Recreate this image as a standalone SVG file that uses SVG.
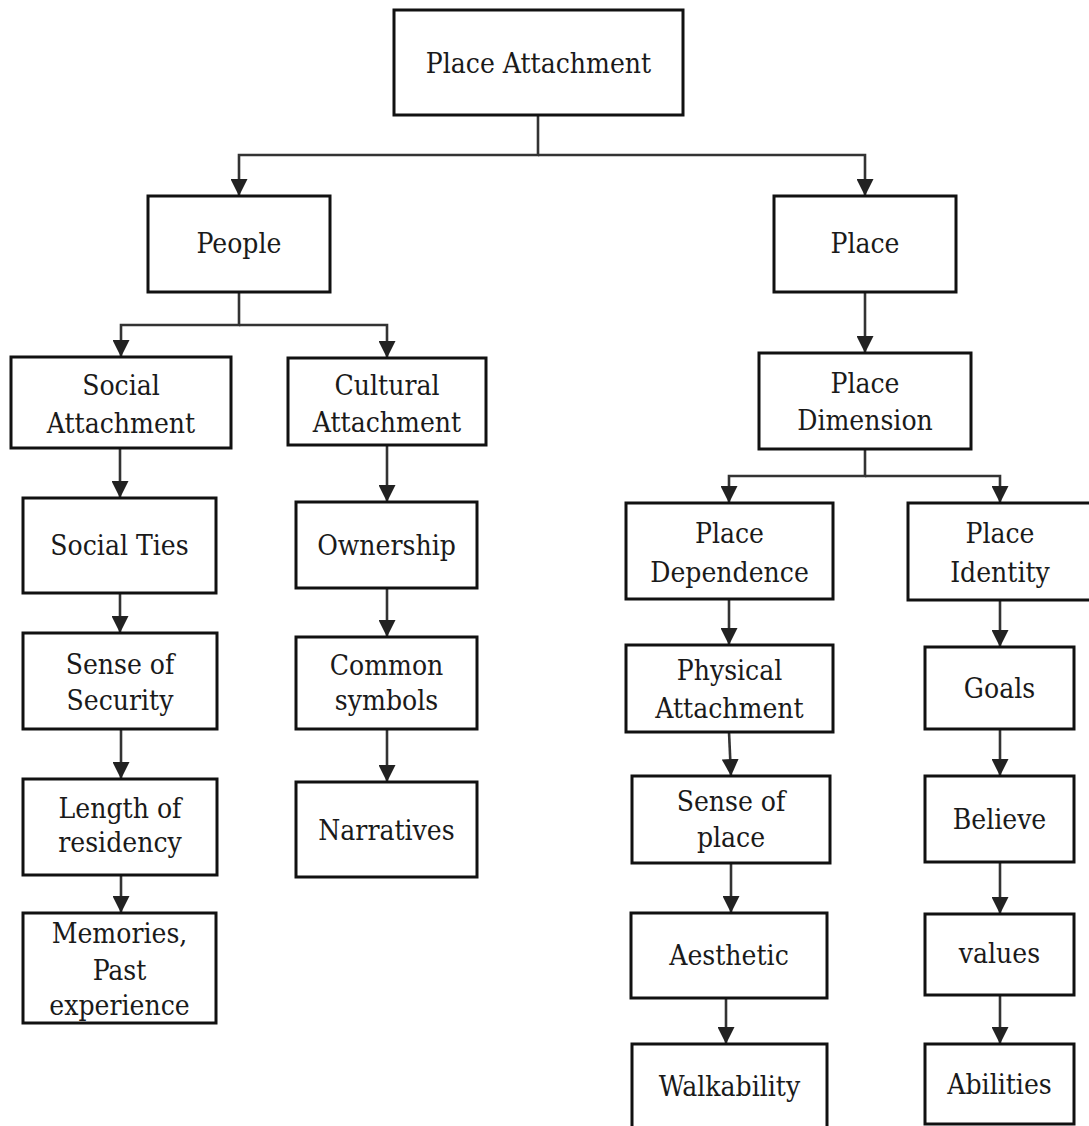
<svg xmlns="http://www.w3.org/2000/svg" width="1089" height="1126" viewBox="0 0 1089 1126">
<style>
rect.box{fill:#fff;stroke:#111;stroke-width:3}
.lbl text{font-family:"DejaVu Serif Condensed","DejaVu Serif","Liberation Serif",serif;font-stretch:condensed;font-size:28px;fill:#1a1a1a;text-anchor:middle}
.conn path{fill:none;stroke:#333;stroke-width:2.6}
</style>
<defs>
<marker id="arr" viewBox="0 0 16 16" refX="16" refY="8" markerWidth="17" markerHeight="17" markerUnits="userSpaceOnUse" orient="auto">
<path d="M0,0 L16,8 L0,16 z" fill="#222"/>
</marker>
</defs>
<rect width="1089" height="1126" fill="#fff"/>
<g class="conn">
<path d="M538,115 V155 H239 V196" marker-end="url(#arr)"/>
<path d="M538,155 H865 V196" marker-end="url(#arr)"/>
<path d="M239,292 V325 H121 V357" marker-end="url(#arr)"/>
<path d="M239,325 H387 V358" marker-end="url(#arr)"/>
<path d="M120,448 V498" marker-end="url(#arr)"/>
<path d="M120,593 V633" marker-end="url(#arr)"/>
<path d="M121,729 V779" marker-end="url(#arr)"/>
<path d="M121,875 V913" marker-end="url(#arr)"/>
<path d="M387,445 V502" marker-end="url(#arr)"/>
<path d="M387,588 V637" marker-end="url(#arr)"/>
<path d="M387,729 V782" marker-end="url(#arr)"/>
<path d="M865,292 V353" marker-end="url(#arr)"/>
<path d="M865,449 V476 H729 V503" marker-end="url(#arr)"/>
<path d="M865,476 H1000 V503" marker-end="url(#arr)"/>
<path d="M729,599 V645" marker-end="url(#arr)"/>
<path d="M729,732 L731,776" marker-end="url(#arr)"/>
<path d="M731,863 V913" marker-end="url(#arr)"/>
<path d="M726,998 V1044" marker-end="url(#arr)"/>
<path d="M1000,600 V647" marker-end="url(#arr)"/>
<path d="M1000,729 V776" marker-end="url(#arr)"/>
<path d="M1000,862 V914" marker-end="url(#arr)"/>
<path d="M1000,995 V1044" marker-end="url(#arr)"/>
</g>
<g class="lbl">
<g id="place-attachment"><rect class="box" x="394" y="10" width="289" height="105"/><text x="538.5" y="73">Place Attachment</text></g>
<g id="people"><rect class="box" x="148" y="196" width="182" height="96"/><text x="239" y="253">People</text></g>
<g id="place"><rect class="box" x="774" y="196" width="182" height="96"/><text x="865" y="253">Place</text></g>
<g id="social-attachment"><rect class="box" x="11" y="357" width="220" height="91"/><text x="121" y="395">Social</text><text x="121" y="433">Attachment</text></g>
<g id="cultural-attachment"><rect class="box" x="288" y="358" width="198" height="87"/><text x="387" y="395">Cultural</text><text x="387" y="432">Attachment</text></g>
<g id="social-ties"><rect class="box" x="23" y="498" width="193" height="95"/><text x="119.5" y="555">Social Ties</text></g>
<g id="sense-of-security"><rect class="box" x="23" y="633" width="194" height="96"/><text x="120" y="674">Sense of</text><text x="120" y="710">Security</text></g>
<g id="length-of-residency"><rect class="box" x="23" y="779" width="194" height="96"/><text x="120" y="818">Length of</text><text x="120" y="852">residency</text></g>
<g id="memories"><rect class="box" x="23" y="913" width="193" height="110"/><text x="119.5" y="943">Memories,</text><text x="119.5" y="980">Past</text><text x="119.5" y="1015">experience</text></g>
<g id="ownership"><rect class="box" x="296" y="502" width="181" height="86"/><text x="386.5" y="555">Ownership</text></g>
<g id="common-symbols"><rect class="box" x="296" y="637" width="181" height="92"/><text x="386.5" y="675">Common</text><text x="386.5" y="710">symbols</text></g>
<g id="narratives"><rect class="box" x="296" y="782" width="181" height="95"/><text x="386.5" y="840">Narratives</text></g>
<g id="place-dimension"><rect class="box" x="759" y="353" width="212" height="96"/><text x="865" y="393">Place</text><text x="865" y="430">Dimension</text></g>
<g id="place-dependence"><rect class="box" x="626" y="503" width="207" height="96"/><text x="729.5" y="543">Place</text><text x="729.5" y="582">Dependence</text></g>
<g id="place-identity"><rect class="box" x="908" y="503" width="184" height="97"/><text x="1000" y="543">Place</text><text x="1000" y="582">Identity</text></g>
<g id="physical-attachment"><rect class="box" x="626" y="645" width="207" height="87"/><text x="729.5" y="680">Physical</text><text x="729.5" y="718">Attachment</text></g>
<g id="sense-of-place"><rect class="box" x="632" y="776" width="198" height="87"/><text x="731" y="811">Sense of</text><text x="731" y="847">place</text></g>
<g id="aesthetic"><rect class="box" x="631" y="913" width="196" height="85"/><text x="729" y="965">Aesthetic</text></g>
<g id="walkability"><rect class="box" x="632" y="1044" width="195" height="86"/><text x="729.5" y="1096">Walkability</text></g>
<g id="goals"><rect class="box" x="925" y="647" width="149" height="82"/><text x="999.5" y="698">Goals</text></g>
<g id="believe"><rect class="box" x="925" y="776" width="149" height="86"/><text x="999.5" y="829">Believe</text></g>
<g id="values"><rect class="box" x="925" y="914" width="149" height="81"/><text x="999.5" y="963">values</text></g>
<g id="abilities"><rect class="box" x="925" y="1044" width="149" height="80"/><text x="999.5" y="1094">Abilities</text></g>
</g>
</svg>
